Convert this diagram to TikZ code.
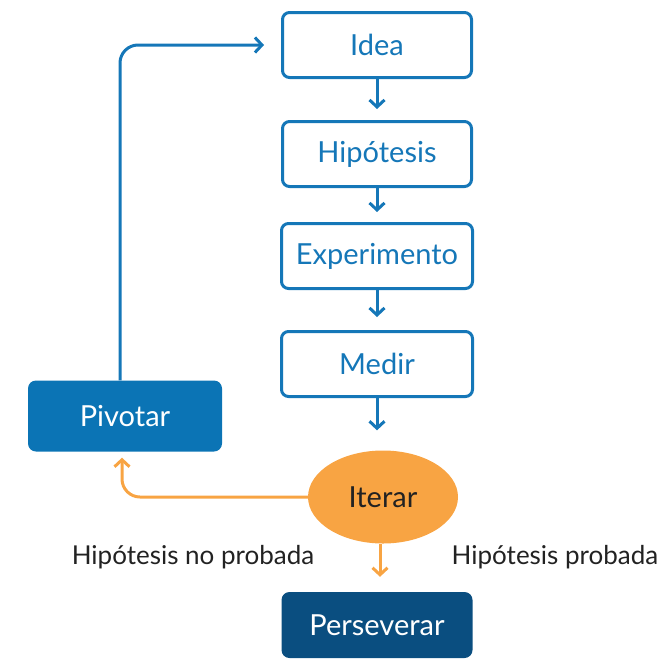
\documentclass[tikz,border=0pt]{standalone}
\usepackage{fontspec}
\setmainfont{Lato}
\usetikzlibrary{arrows.meta,shapes.geometric}
\definecolor{boxblue}{HTML}{1577B8}
\definecolor{fillblue}{HTML}{0B74B5}
\definecolor{darkblue}{HTML}{0A4E80}
\definecolor{orng}{HTML}{F8A443}
\definecolor{txt}{HTML}{222222}
\tikzset{
  x=1pt,y=-1pt,
  outbox/.style={draw=boxblue,line width=3pt,rounded corners=7pt,fill=white,
    minimum width=189pt,minimum height=65pt,inner sep=0pt,text=boxblue,font=\fontsize{29}{30}\selectfont},
  fillbox/.style={fill=#1,rounded corners=8pt,inner sep=0pt,text=white,font=\fontsize{29}{30}\selectfont},
  barrow/.style={draw=boxblue,line width=3pt,-{Straight Barb[length=7pt,width=15pt,line width=3pt]}},
  oarrow/.style={draw=orng,line width=3pt,-{Straight Barb[length=7pt,width=15pt,line width=3pt]}},
  lbl/.style={text=txt,font=\fontsize{26}{30}\selectfont,inner sep=0pt}
}
\begin{document}
\begin{tikzpicture}
\useasboundingbox (0,0) rectangle (668,659);
\node[outbox] (idea) at (377,45) {Idea};
\node[outbox] (hip) at (377,154) {Hipótesis};
\node[outbox,minimum width=191pt] (exp) at (377,256) {Experimento};
\node[outbox,minimum width=191pt] (med) at (377,364) {Medir};
\node[fillbox=fillblue,minimum width=194pt,minimum height=71pt] (piv) at (125,416) {Pivotar};
\node[fillbox=darkblue,minimum width=191pt,minimum height=66pt] (per) at (377,625) {Perseverar};
\node[ellipse,fill=orng,minimum width=150pt,minimum height=93pt,inner sep=0pt,text=txt,font=\fontsize{29}{30}\selectfont] (it) at (383,497) {Iterar};
\node[lbl] (lno) at (193,557) {Hipótesis no probada};
\node[lbl] (lsi) at (555,557) {Hipótesis probada};
\coordinate (pivt) at ([xshift=-5pt]piv.north);
\coordinate (pivb) at ([xshift=-3pt]piv.south);
\coordinate (itb) at ([xshift=-3pt]it.south);
\draw[barrow,shorten >=11pt] (idea.south) -- (hip.north);
\draw[barrow,shorten >=10pt] (hip.south) -- (exp.north);
\draw[barrow,shorten >=13pt] (exp.south) -- (med.north);
\draw[barrow,shorten >=20pt] (med.south) -- (med.south |- it.north);
\draw[barrow,rounded corners=18pt,shorten >=17pt] (pivt) |- (idea.west);
\draw[oarrow,rounded corners=18pt,shorten >=6pt] (it.west) -| (pivb);
\draw[oarrow,shorten >=15pt] (itb) -- (itb |- per.north);
\end{tikzpicture}
\end{document}
